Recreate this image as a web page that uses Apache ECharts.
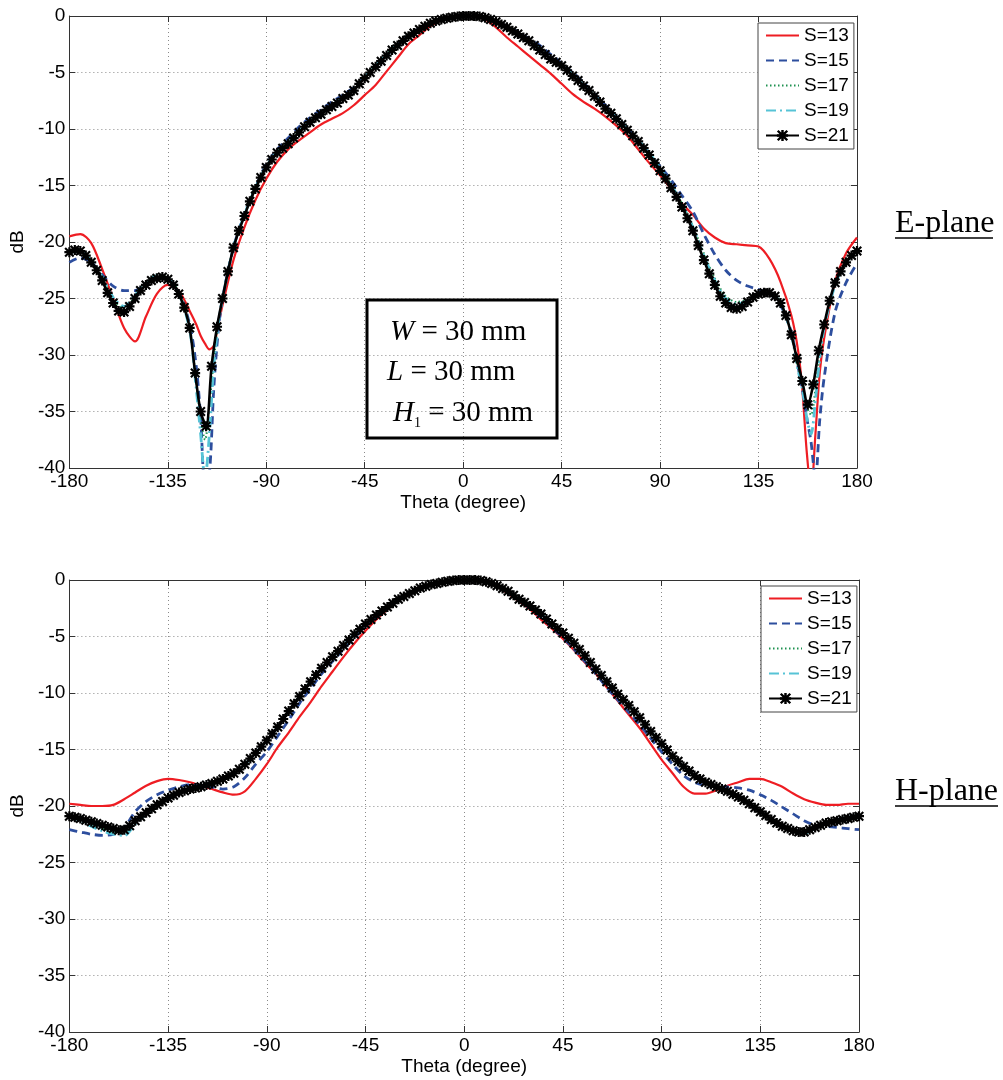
<!DOCTYPE html>
<html><head><meta charset="utf-8">
<script src="https://cdn.jsdelivr.net/npm/echarts@6/dist/echarts.min.js"></script>
<style>html,body{margin:0;padding:0;background:#fff}#c{width:1003px;height:1080px}</style>
</head><body><div id="c"></div><script>
// ---------- data ----------
const seriesNames = ['S=13','S=15','S=17','S=19','S=21'];
const xTicks = [-180,-135,-90,-45,0,45,90,135,180];
const yTicks = [-40,-35,-30,-25,-20,-15,-10,-5,0];

// E-plane, S=13..S=19 sample angles
const thetaE = [-180,-175,-170,-165,-160,-155,-150,-145,-140,-135,
  -130,-125,-122,-120,-118,-116,-114,-112,-110,-105,
  -100,-95,-90,-85,-80,-75,-70,-65,-60,-55,
  -50,-45,-40,-35,-30,-25,-20,-15,-10,-5,
  0,5,10,15,20,25,30,35,40,45,
  50,55,60,65,70,75,80,85,90,95,
  100,105,110,115,120,125,130,135,140,145,
  150,153,155,157,159,161,163,165,170,175,
  180];
const eS13 = [-19.5,-19.3,-20.1,-22.4,-25.0,-27.6,-28.8,-26.6,-24.6,-23.8,
  -24.3,-26.1,-27.3,-28.3,-29.0,-29.5,-29.2,-27.4,-25.6,-21.6,
  -18.7,-16.3,-14.4,-12.9,-11.8,-11.0,-10.3,-9.6,-9.1,-8.6,
  -7.9,-7.0,-6.1,-4.9,-3.7,-2.5,-1.7,-0.9,-0.4,-0.1,
  0,-0.05,-0.3,-1.0,-1.9,-2.7,-3.5,-4.3,-5.1,-6.0,
  -6.9,-7.6,-8.2,-8.9,-9.7,-10.6,-11.8,-13.0,-14.1,-15.3,
  -16.6,-17.6,-18.8,-19.6,-20.1,-20.2,-20.3,-20.4,-21.5,-23.5,
  -26.5,-29.5,-33.0,-38.5,-42.0,-37.0,-31.5,-28.5,-23.5,-21.0,
  -19.6];
const eS15 = [-21.8,-21.4,-21.8,-22.9,-23.9,-24.3,-24.3,-23.7,-23.2,-23.3,
  -24.4,-27.3,-31.0,-35.5,-41.5,-40.5,-33.0,-28.0,-25.0,-20.5,
  -17.5,-15.2,-13.1,-11.8,-10.8,-9.8,-9.0,-8.3,-7.6,-7.0,
  -6.3,-5.4,-4.4,-3.5,-2.5,-1.7,-1.1,-0.6,-0.3,-0.1,
  0,0,-0.1,-0.5,-0.9,-1.4,-2.0,-2.6,-3.4,-4.2,
  -5.0,-5.9,-6.9,-7.9,-8.9,-9.9,-11.0,-12.1,-13.3,-14.5,
  -15.9,-17.3,-19.3,-21.1,-22.5,-23.4,-23.9,-24.2,-24.6,-25.6,
  -28.0,-31.0,-33.0,-35.5,-37.7,-41.0,-35.7,-32.0,-26.2,-23.6,
  -21.9];
const eS17 = [-20.9,-20.8,-21.7,-23.2,-25.1,-25.9,-24.8,-23.6,-22.9,-23.1,
  -24.4,-27.5,-32.5,-35.6,-37.5,-34.5,-30.5,-27.3,-25.0,-20.5,
  -17.6,-15.2,-13.3,-12.0,-11.2,-10.2,-9.3,-8.6,-7.9,-7.2,
  -6.5,-5.4,-4.4,-3.4,-2.5,-1.7,-1.1,-0.6,-0.3,-0.1,
  0,0,-0.1,-0.5,-0.95,-1.5,-2.1,-2.9,-3.7,-4.3,
  -5.2,-6.1,-7.0,-8.1,-9.0,-10.0,-11.0,-12.1,-13.5,-14.9,
  -16.6,-18.6,-21.0,-23.2,-24.8,-25.3,-25.1,-24.5,-24.4,-25.3,
  -28.1,-31.1,-32.6,-34.6,-35.3,-33.0,-29.8,-27.5,-23.7,-21.8,
  -20.8];
const eS19 = [-20.9,-20.8,-21.7,-23.1,-24.9,-25.7,-24.7,-23.6,-23.0,-23.2,
  -24.5,-27.8,-33.0,-37.0,-41.0,-37.0,-31.0,-27.4,-25.0,-20.5,
  -17.6,-15.2,-13.3,-12.0,-11.2,-10.2,-9.3,-8.6,-7.9,-7.2,
  -6.5,-5.4,-4.4,-3.4,-2.5,-1.7,-1.1,-0.6,-0.3,-0.1,
  0,0,-0.1,-0.5,-0.95,-1.5,-2.1,-2.9,-3.7,-4.3,
  -5.2,-6.1,-7.0,-8.1,-9.0,-10.0,-11.0,-12.1,-13.5,-14.9,
  -16.7,-18.7,-21.2,-23.4,-25.0,-25.5,-25.2,-24.6,-24.5,-25.4,
  -28.2,-31.3,-33.0,-35.5,-37.0,-34.0,-30.3,-27.6,-23.8,-21.8,
  -20.8];

// S=21 sample angles (dense, both planes)
const theta21 = [-180,-177.5,-175,-172.5,-170,-167.5,-165,-162.5,
  -160,-157.5,-155,-152.5,-150,-147.5,-145,-142.5,
  -140,-137.5,-135,-132.5,-130,-127.5,-125,-122.5,
  -120,-117.5,-115,-112.5,-110,-107.5,-105,-102.5,
  -100,-97.5,-95,-92.5,-90,-87.5,-85,-82.5,
  -80,-77.5,-75,-72.5,-70,-67.5,-65,-62.5,
  -60,-57.5,-55,-52.5,-50,-47.5,-45,-42.5,
  -40,-37.5,-35,-32.5,-30,-27.5,-25,-22.5,
  -20,-17.5,-15,-12.5,-10,-7.5,-5,-2.5,
  0,2.5,5,7.5,10,12.5,15,17.5,
  20,22.5,25,27.5,30,32.5,35,37.5,
  40,42.5,45,47.5,50,52.5,55,57.5,
  60,62.5,65,67.5,70,72.5,75,77.5,
  80,82.5,85,87.5,90,92.5,95,97.5,
  100,102.5,105,107.5,110,112.5,115,117.5,
  120,122.5,125,127.5,130,132.5,135,137.5,
  140,142.5,145,147.5,150,152.5,155,157.5,
  160,162.5,165,167.5,170,172.5,175,177.5,
  180];
const eS21 = [-20.9,-20.7,-20.8,-21.2,-21.8,-22.5,-23.4,-24.5,
  -25.4,-26.1,-26.2,-25.7,-25.0,-24.3,-23.8,-23.4,
  -23.2,-23.1,-23.3,-23.8,-24.6,-25.8,-27.6,-31.6,
  -35.0,-36.3,-31.0,-27.5,-25.0,-22.6,-20.5,-19.0,
  -17.7,-16.4,-15.3,-14.3,-13.4,-12.7,-12.1,-11.7,
  -11.3,-10.8,-10.3,-9.8,-9.4,-9.0,-8.7,-8.3,
  -8.0,-7.7,-7.3,-7.0,-6.6,-6.0,-5.5,-5.0,
  -4.5,-4.0,-3.5,-3.0,-2.6,-2.2,-1.8,-1.5,
  -1.2,-0.9,-0.65,-0.45,-0.3,-0.2,-0.1,-0.05,
  0,0,0,-0.05,-0.15,-0.3,-0.5,-0.75,
  -1.0,-1.3,-1.6,-1.9,-2.2,-2.6,-3.0,-3.4,
  -3.8,-4.1,-4.4,-4.8,-5.3,-5.7,-6.2,-6.6,
  -7.1,-7.6,-8.2,-8.6,-9.1,-9.6,-10.1,-10.6,
  -11.1,-11.7,-12.3,-13.0,-13.7,-14.4,-15.2,-16.0,
  -16.9,-17.9,-19.0,-20.3,-21.6,-22.8,-23.8,-24.8,
  -25.4,-25.8,-25.9,-25.7,-25.3,-24.9,-24.6,-24.5,
  -24.5,-24.8,-25.4,-26.5,-28.2,-30.3,-32.3,-34.4,
  -32.6,-29.6,-27.3,-25.2,-23.6,-22.6,-21.8,-21.2,
  -20.8];

// H-plane, S=13..S=19 sample angles
const thetaH = [-180,-175,-170,-165,-160,-155,-150,-145,-140,-135,
  -130,-125,-120,-115,-110,-105,-100,-95,-90,-85,
  -80,-75,-70,-65,-60,-55,-50,-45,-40,-35,
  -30,-25,-20,-15,-10,-5,0,5,10,15,
  20,25,30,35,40,45,50,55,60,65,
  70,75,80,85,90,95,100,105,110,115,
  120,125,130,135,140,145,150,155,160,165,
  170,175,180];
const hS13 = [-19.8,-19.9,-20.0,-20.0,-19.9,-19.4,-18.8,-18.2,-17.8,-17.6,
  -17.7,-17.9,-18.2,-18.5,-18.8,-19.0,-18.7,-17.6,-16.3,-14.8,
  -13.5,-12.1,-10.8,-9.4,-8.1,-6.8,-5.6,-4.5,-3.5,-2.6,
  -1.8,-1.2,-0.7,-0.4,-0.2,-0.05,0,0,-0.2,-0.6,
  -1.2,-1.9,-2.6,-3.5,-4.3,-5.2,-6.2,-7.3,-8.3,-9.5,
  -10.7,-11.9,-13.1,-14.5,-15.9,-17.1,-18.3,-18.9,-18.9,-18.6,
  -18.2,-17.9,-17.6,-17.6,-17.9,-18.3,-18.9,-19.4,-19.7,-19.9,
  -19.9,-19.8,-19.8];
const hS15 = [-22.1,-22.3,-22.5,-22.6,-22.5,-21.9,-20.5,-19.6,-19.0,-18.6,
  -18.3,-18.1,-18.2,-18.3,-18.5,-18.3,-17.5,-16.3,-15.2,-13.8,
  -12.4,-10.9,-9.6,-8.3,-7.2,-6.1,-5.1,-4.1,-3.3,-2.5,
  -1.8,-1.2,-0.8,-0.4,-0.2,-0.05,0,0,-0.15,-0.5,
  -1.1,-1.8,-2.5,-3.3,-4.2,-5.1,-6.1,-7.2,-8.3,-9.5,
  -10.6,-11.7,-12.8,-14.0,-15.2,-16.3,-17.3,-17.9,-18.2,-18.3,
  -18.3,-18.4,-18.6,-19.0,-19.5,-20.1,-20.7,-21.3,-21.7,-21.8,
  -21.9,-22.0,-22.1];
const hS17 = [-20.9,-21.2,-21.6,-22.0,-22.3,-22.3,-21.4,-20.6,-19.9,-19.3,
  -18.8,-18.5,-18.3,-18.0,-17.6,-17.1,-16.3,-15.3,-14.2,-13.0,
  -11.6,-10.3,-9.0,-7.8,-6.8,-5.8,-4.8,-3.9,-3.1,-2.4,
  -1.7,-1.2,-0.7,-0.4,-0.2,-0.05,0,0,-0.15,-0.5,
  -1.0,-1.7,-2.3,-3.0,-3.9,-4.7,-5.6,-6.7,-7.9,-9.0,
  -10.1,-11.1,-12.2,-13.4,-14.5,-15.6,-16.5,-17.3,-17.9,-18.3,
  -18.7,-19.2,-19.8,-20.5,-21.2,-21.8,-22.2,-22.4,-22.0,-21.5,
  -21.2,-21.0,-20.8];
const hS19 = [-20.9,-21.3,-21.8,-22.2,-22.5,-22.6,-21.6,-20.7,-19.9,-19.3,
  -18.8,-18.5,-18.3,-18.0,-17.6,-17.1,-16.3,-15.3,-14.2,-13.0,
  -11.6,-10.3,-9.0,-7.8,-6.8,-5.8,-4.8,-3.9,-3.1,-2.4,
  -1.7,-1.2,-0.7,-0.4,-0.2,-0.05,0,0,-0.15,-0.5,
  -1.0,-1.7,-2.3,-3.0,-3.9,-4.7,-5.6,-6.7,-7.9,-9.0,
  -10.1,-11.1,-12.2,-13.4,-14.5,-15.6,-16.5,-17.3,-17.9,-18.3,
  -18.7,-19.2,-19.8,-20.5,-21.2,-21.8,-22.2,-22.4,-22.0,-21.5,
  -21.2,-21.0,-20.8];
const hS21 = [-20.9,-21.0,-21.1,-21.25,-21.4,-21.55,-21.7,-21.85,
  -22.0,-22.15,-22.1,-21.75,-21.3,-20.95,-20.6,-20.25,
  -19.9,-19.6,-19.3,-19.05,-18.8,-18.65,-18.5,-18.4,
  -18.3,-18.15,-18.0,-17.8,-17.6,-17.35,-17.1,-16.75,
  -16.3,-15.8,-15.3,-14.75,-14.2,-13.6,-13.0,-12.3,
  -11.6,-10.95,-10.3,-9.65,-9.0,-8.4,-7.8,-7.3,
  -6.8,-6.3,-5.8,-5.3,-4.8,-4.35,-3.9,-3.5,
  -3.1,-2.75,-2.4,-2.05,-1.7,-1.45,-1.2,-0.95,
  -0.7,-0.55,-0.4,-0.3,-0.2,-0.1,-0.05,0,
  0,0,0,-0.05,-0.15,-0.3,-0.5,-0.75,
  -1.0,-1.35,-1.7,-2.0,-2.3,-2.65,-3.0,-3.45,
  -3.9,-4.3,-4.7,-5.15,-5.6,-6.15,-6.7,-7.3,
  -7.9,-8.45,-9.0,-9.55,-10.1,-10.6,-11.1,-11.65,
  -12.2,-12.8,-13.4,-13.95,-14.5,-15.05,-15.6,-16.05,
  -16.5,-16.9,-17.3,-17.6,-17.9,-18.1,-18.3,-18.5,
  -18.7,-18.95,-19.2,-19.5,-19.8,-20.15,-20.5,-20.85,
  -21.2,-21.5,-21.8,-22.0,-22.2,-22.3,-22.3,-22.1,
  -21.9,-21.7,-21.5,-21.4,-21.3,-21.2,-21.1,-21.0,
  -20.9];

// ---------- styles ----------
const FONT = 'Liberation Sans, Arial, sans-serif';
const SERIF = 'Liberation Serif, Times New Roman, serif';
const star = 'path://M0,1.5 L1.5,0 L5,3.5 L8.5,0 L10,1.5 L6.5,5 L10,8.5 L8.5,10 L5,6.5 L1.5,10 L0,8.5 L3.5,5 Z M3.9,0 L6.1,0 L6.1,10 L3.9,10 Z M0,3.9 L10,3.9 L10,6.1 L0,6.1 Z';
const lineStyles = [
  {color:'#EE1D23', type:'solid', width:2.2},
  {color:'#2D4E9E', type:[8,5], width:2.8},
  {color:'#1E9150', type:[1.5,2.5], width:2},
  {color:'#56C3D6', type:[10,4,2,4], width:2.8},
  {color:'#000000', type:'solid', width:2.6}
];
const grids = [
  {left:67, top:16, width:790, height:452},
  {left:69, top:580, width:790, height:452}
];
function pairs(t, v){ return t.map((x,i)=>[x, v[i]]); }

const xMain = grids.map((g,i)=>({
  type:'value', gridIndex:i, min:xTicks[0], max:xTicks[xTicks.length-1], interval:45,
  name:'Theta (degree)', nameLocation:'middle', nameGap:25,
  nameTextStyle:{fontFamily:FONT, fontSize:19, color:'#000'},
  axisLine:{show:true, onZero:false, lineStyle:{color:'#333', width:1}},
  axisTick:{show:true, inside:true, length:6, lineStyle:{color:'#333'}},
  axisLabel:{fontFamily:FONT, fontSize:19, color:'#000', margin:4, showMinLabel:true, showMaxLabel:true},
  splitLine:{show:true, lineStyle:{color:'#8a8a8a', type:[1,3], width:1}}
}));
const xTop = grids.map((g,i)=>({
  type:'value', gridIndex:i, position:'top', min:-180, max:180, interval:45,
  axisLine:{show:true, onZero:false, lineStyle:{color:'#333', width:1}},
  axisTick:{show:true, inside:true, length:6, lineStyle:{color:'#333'}},
  axisLabel:{show:false}, splitLine:{show:false}
}));
const yMain = grids.map((g,i)=>({
  type:'value', gridIndex:i, min:yTicks[0], max:yTicks[yTicks.length-1], interval:5,
  name:'dB', nameLocation:'middle', nameGap:32, nameRotate:90,
  nameTextStyle:{fontFamily:FONT, fontSize:19, color:'#000'},
  axisLine:{show:true, onZero:false, lineStyle:{color:'#333', width:1}},
  axisTick:{show:true, inside:true, length:6, lineStyle:{color:'#333'}},
  axisLabel:{fontFamily:FONT, fontSize:19, color:'#000', margin:4, showMinLabel:true, showMaxLabel:true},
  splitLine:{show:true, lineStyle:{color:'#8a8a8a', type:[1,3], width:1}}
}));
const yRight = grids.map((g,i)=>({
  type:'value', gridIndex:i, position:'right', min:-40, max:0, interval:5,
  axisLine:{show:true, onZero:false, lineStyle:{color:'#333', width:1}},
  axisTick:{show:true, inside:true, length:6, lineStyle:{color:'#333'}},
  axisLabel:{show:false}, splitLine:{show:false}
}));

const planeData = [
  {thetas:[thetaE,thetaE,thetaE,thetaE,theta21], vals:[eS13,eS15,eS17,eS19,eS21]},
  {thetas:[thetaH,thetaH,thetaH,thetaH,theta21], vals:[hS13,hS15,hS17,hS19,hS21]}
];
const series = [];
planeData.forEach((p, gi)=>{
  p.vals.forEach((v, si)=>{
    const isStar = si === 4;
    series.push({
      type:'line', name:seriesNames[si], xAxisIndex:gi, yAxisIndex:gi,
      data:pairs(p.thetas[si], v), smooth:0.3, clip:true,
      showSymbol:isStar, symbol:isStar ? star : 'none', symbolSize:10,
      itemStyle:{color:lineStyles[si].color},
      lineStyle:lineStyles[si], z:2+si, animation:false
    });
  });
});

const legendData = seriesNames.map((n,i)=> i===4 ? {name:n} : {name:n, itemStyle:{opacity:0}});
const legendBase = {
  orient:'vertical', data:legendData, itemWidth:33, itemHeight:14, itemGap:6,
  backgroundColor:'#fff', borderColor:'#444', borderWidth:1,
  padding:[3,5,4,7],
  textStyle:{fontFamily:FONT, fontSize:19, color:'#000', lineHeight:18},
  selectedMode:false
};

function annotLine(text, x, y){
  return {type:'text', x:x, y:y, z:10, style:{
    text:text, fontFamily:SERIF, fontSize:29, fill:'#000', verticalAlign:'middle', lineHeight:34,
    rich:{
      i:{fontFamily:SERIF, fontSize:29, fontStyle:'italic', lineHeight:34},
      s:{fontFamily:SERIF, fontSize:14, lineHeight:14, verticalAlign:'bottom'}
    }
  }};
}

const option = {
  backgroundColor:'#fff',
  animation:false,
  grid:grids,
  xAxis:[...xMain, ...xTop],
  yAxis:[...yMain, ...yRight],
  legend:[
    Object.assign({left:758, top:23}, legendBase),
    Object.assign({left:761, top:586}, legendBase)
  ],
  series:series,
  graphic:[
    {type:'rect', z:10, shape:{x:367, y:300, width:190, height:138}, style:{fill:'none', stroke:'#000', lineWidth:3}},
    annotLine('{i|W} = 30 mm', 390, 332),
    annotLine('{i|L} = 30 mm', 387, 372),
    annotLine('{i|H}{s|1} = 30 mm', 393, 413),
    {type:'text', x:895, y:224, style:{text:'E-plane', fontFamily:SERIF, fontSize:32, fill:'#000', verticalAlign:'middle'}},
    {type:'line', shape:{x1:895, y1:238, x2:993, y2:238}, style:{stroke:'#000', lineWidth:1.5}},
    {type:'text', x:895, y:792, style:{text:'H-plane', fontFamily:SERIF, fontSize:32, fill:'#000', verticalAlign:'middle'}},
    {type:'line', shape:{x1:895, y1:806, x2:998, y2:806}, style:{stroke:'#000', lineWidth:1.5}}
  ]
};
const chart = echarts.init(document.getElementById('c'), null, {renderer:'canvas'});
chart.setOption(option);
</script></body></html>
